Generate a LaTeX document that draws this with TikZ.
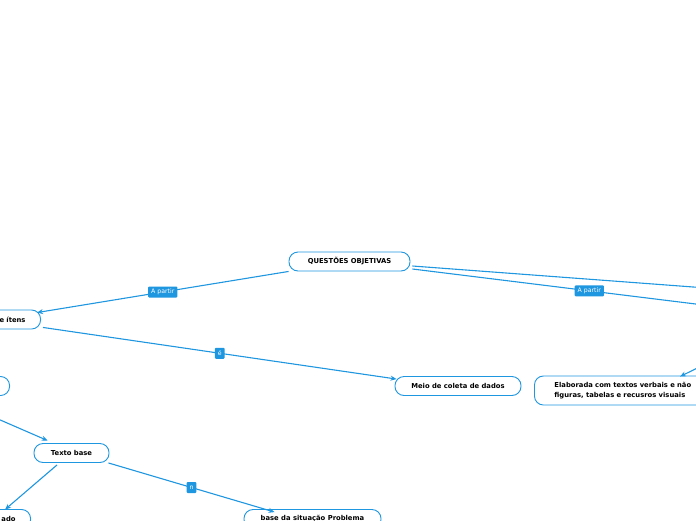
\documentclass[tikz,border=0pt]{standalone}
\usepackage{fontspec}
\setmainfont{DejaVu Sans}
\usetikzlibrary{arrows.meta}
\definecolor{mmblue}{RGB}{30,150,224}
\begin{document}
\begin{tikzpicture}[x=1pt,y=-1pt,
 topic/.style={draw=mmblue, line width=0.9pt, fill=white, rounded corners=9pt,
   font=\fontsize{6.8}{9.2}\selectfont\bfseries, inner xsep=15pt, inner ysep=2pt, minimum height=19pt},
 conn/.style={draw=mmblue, line width=1.1pt, -{Stealth[length=6pt,width=5pt]}},
 plain/.style={draw=mmblue, line width=1.1pt},
 lbl/.style={fill=mmblue, text=white, rounded corners=1pt, font=\fontsize{6.2}{7}\selectfont,
   inner xsep=3pt, inner ysep=2pt, minimum height=11pt}]
\useasboundingbox (0,0) rectangle (696,520);
\clip (0,0) rectangle (696,520);
% nodes
\node[topic, minimum width=121pt] (q) at (349.5,261.5) {QUESTÕES OBJETIVAS};
\node[topic, anchor=east, text width=60pt, align=right] (it) at (41,319.5) {de ítens};
\node[topic, minimum width=126pt] (meio) at (458,386) {Meio de coleta de dados};
\node[topic, anchor=east, minimum width=70pt] (lft) at (10,386) {};
\node[topic, minimum width=75pt] (tb) at (71.5,453) {Texto base};
\node[topic, anchor=east, text width=40pt, align=right] (ado) at (31,519) {ado};
\node[topic, minimum width=137pt] (bs) at (312.5,519) {base da situação Problema};
\node[topic, anchor=west, align=left, text width=170pt, minimum height=29pt, inner xsep=20pt] (el) at (534,390.5)
  {Elaborada com textos verbais e não\\figuras, tabelas e recusros visuais};
% free ends outside the frame
\coordinate (r1) at (720,289);
\coordinate (r2) at (720,307);
\coordinate (r3) at (730,352);
\coordinate (l1) at (-40,402.5);
% connectors
\draw[conn] (q.south west) -- node[lbl]{A partir} ([xshift=-4pt,yshift=-3pt]it.north east);
\draw[conn] ([xshift=2pt,yshift=2pt]it.south east) -- node[lbl]{é} ([xshift=2pt,yshift=-3pt]meio.north west);
\draw[plain] ([xshift=2pt,yshift=-4.5pt]q.east) -- (r1);
\draw[plain] ([xshift=2pt,yshift=-7.5pt]q.east) -- node[lbl,pos=0.575]{A partir} (r2);
\draw[conn] (r3) -- ([xshift=146pt,yshift=-1pt]el.north west);
\draw[conn] (l1) -- ([xshift=14pt,yshift=2.5pt]tb.north west);
\draw[conn] ([xshift=-14.5pt,yshift=-2pt]tb.south) -- ([xshift=-26pt,yshift=-0.5pt]ado.north east);
\draw[conn] ([xshift=-1pt]tb.south east) -- node[lbl]{n} ([xshift=31pt,yshift=-3pt]bs.north west);
\end{tikzpicture}
\end{document}
